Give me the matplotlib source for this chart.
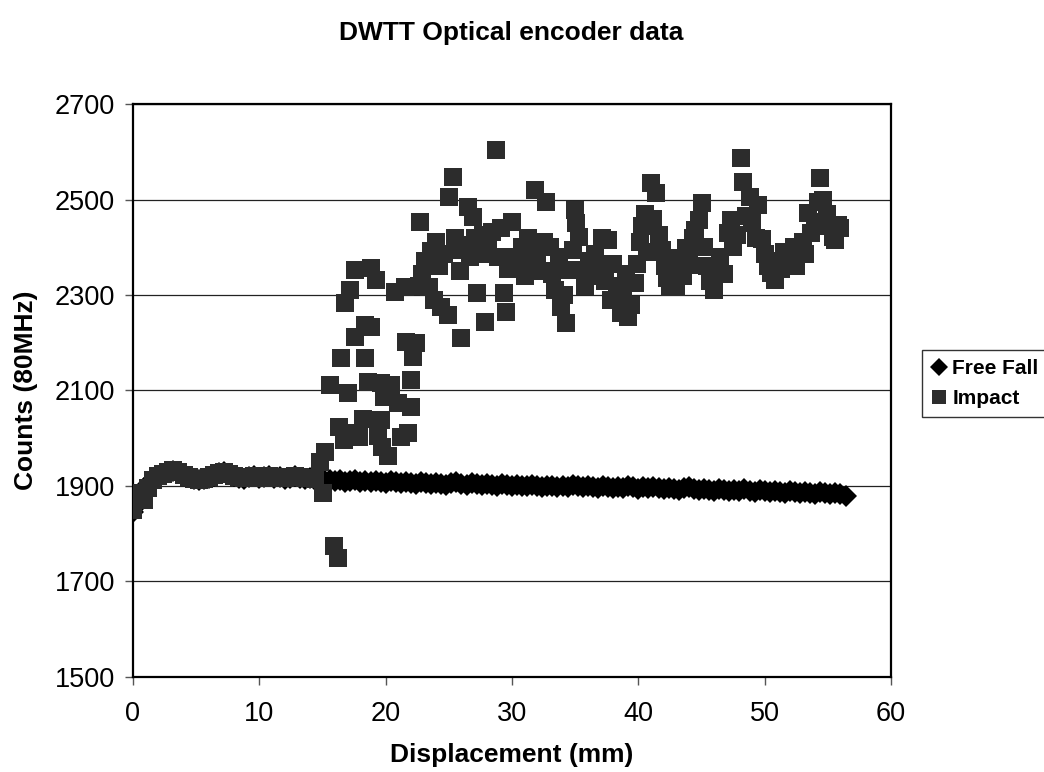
import matplotlib
matplotlib.use("Agg")
import matplotlib.pyplot as plt

plt.rcParams['font.family'] = ['Liberation Sans', 'DejaVu Sans']

title = "DWTT Optical encoder data"
x_label = "Displacement (mm)"
y_label = "Counts (80MHz)"
x_ticks = [0, 10, 20, 30, 40, 50, 60]
y_ticks = [1500, 1700, 1900, 2100, 2300, 2500, 2700]

free_fall_x = [
    0.0, 0.4, 0.8, 1.2, 1.6, 2.0, 2.4, 2.8, 3.2, 3.6, 4.0, 4.4, 4.8, 5.2, 5.6, 6.0,
    6.4, 6.8, 7.2, 7.6, 8.0, 8.4, 8.8, 9.2, 9.6, 10.0, 10.4, 10.8, 11.2, 11.6, 12.0,
    12.4, 12.8, 13.2, 13.6, 14.0, 14.4, 14.8, 15.2, 15.6, 16.0, 16.4, 16.8, 17.2,
    17.6, 18.0, 18.4, 18.8, 19.2, 19.6, 20.0, 20.4, 20.8, 21.2, 21.6, 22.0, 22.4,
    22.8, 23.2, 23.6, 24.0, 24.4, 24.8, 25.2, 25.6, 26.0, 26.4, 26.8, 27.2, 27.6,
    28.0, 28.4, 28.8, 29.2, 29.6, 30.0, 30.4, 30.8, 31.2, 31.6, 32.0, 32.4, 32.8,
    33.2, 33.6, 34.0, 34.4, 34.8, 35.2, 35.6, 36.0, 36.4, 36.8, 37.2, 37.6, 38.0,
    38.4, 38.8, 39.2, 39.6, 40.0, 40.4, 40.8, 41.2, 41.6, 42.0, 42.4, 42.8, 43.2,
    43.6, 44.0, 44.4, 44.8, 45.2, 45.6, 46.0, 46.4, 46.8, 47.2, 47.6, 48.0, 48.4,
    48.8, 49.2, 49.6, 50.0, 50.4, 50.8, 51.2, 51.6, 52.0, 52.4, 52.8, 53.2, 53.6,
    54.0, 54.4, 54.8, 55.2, 55.6, 56.0, 56.4,
]
free_fall_counts = [
    1845, 1862, 1885, 1905, 1915, 1920, 1925, 1930, 1932, 1930, 1925, 1918, 1914,
    1912, 1914, 1917, 1921, 1927, 1929, 1926, 1921, 1917, 1915, 1918, 1920, 1916,
    1918, 1920, 1916, 1918, 1915, 1917, 1920, 1917, 1915, 1916, 1913, 1912, 1911,
    1913, 1910, 1912, 1909, 1911, 1913, 1909, 1910, 1908, 1911, 1909, 1907, 1910,
    1908, 1906, 1909, 1907, 1905, 1908, 1906, 1904, 1907, 1905, 1903, 1906, 1909,
    1905, 1903, 1906, 1904, 1902, 1905, 1903, 1900, 1904, 1902, 1900, 1903, 1901,
    1899, 1902, 1900, 1898, 1901, 1899, 1897, 1900, 1898, 1902, 1899, 1897, 1900,
    1898, 1896, 1899, 1897, 1895, 1898, 1896, 1899, 1897, 1894, 1897, 1895, 1898,
    1895, 1893, 1896, 1894, 1892, 1895, 1897, 1893, 1891, 1894, 1892, 1890, 1893,
    1891, 1889, 1892, 1890, 1893, 1890, 1888, 1891, 1889, 1887, 1890, 1888, 1886,
    1889, 1887, 1885, 1888, 1886, 1884, 1887, 1885, 1883, 1886, 1884, 1880,
]

impact_x = [
    0.0, 0.2, 0.5, 0.9, 1.2, 1.6, 2.0, 2.4, 2.8, 3.2, 3.6, 4.0, 4.4, 4.8, 5.2, 5.6,
    6.0, 6.4, 6.8, 7.2, 7.6, 8.0, 8.4, 8.8, 9.2, 9.6, 10.0, 10.4, 10.8, 11.2, 11.6,
    12.0, 12.4, 12.8, 13.2, 13.6, 14.0, 14.4,
    14.8, 15.0, 15.2, 15.6, 15.9, 16.2, 16.3, 16.5, 16.7, 16.8, 17.0, 17.2, 17.3,
    17.6, 17.6, 17.9, 18.2, 18.4, 18.4, 18.6, 18.8, 18.8, 19.2, 19.4, 19.6, 19.6,
    19.7, 19.9, 20.2, 20.4, 20.7, 21.0, 21.2, 21.5, 21.6, 21.8, 22.0, 22.0, 22.2,
    22.4,
    22.6, 22.7, 22.9, 23.1, 23.4, 23.6, 23.8, 24.0, 24.2, 24.4, 24.6, 24.9, 25.0,
    25.3, 25.5, 25.7, 25.9, 26.0, 26.2, 26.5, 26.7, 26.9, 27.1, 27.2, 27.5, 27.7,
    27.9, 28.1, 28.4, 28.7, 28.9, 29.1, 29.4, 29.5, 29.7, 30.0, 30.2, 30.5, 30.8,
    31.0, 31.3, 31.5, 31.8, 32.0, 32.3, 32.5, 32.7, 33.0, 33.2, 33.4, 33.7, 33.9,
    34.1, 34.3, 34.6, 34.8, 35.0, 35.1, 35.3, 35.6, 35.8, 36.1, 36.3, 36.6, 36.9,
    37.1, 37.4, 37.6, 37.8, 38.0, 38.3, 38.6, 38.8, 39.0, 39.2, 39.4, 39.7, 39.9,
    40.1, 40.3, 40.5, 40.7, 41.0, 41.2, 41.4, 41.6, 41.9, 42.1, 42.3, 42.5, 42.8,
    43.0, 43.2, 43.5, 43.8, 44.0, 44.3, 44.5, 44.8, 45.0, 45.2, 45.4, 45.7, 46.0,
    46.2, 46.5, 46.8, 47.1, 47.3, 47.5, 47.8, 48.1, 48.3, 48.5, 48.8, 49.0, 49.3,
    49.5, 49.8, 50.0, 50.3, 50.5, 50.8, 51.0, 51.3, 51.5, 51.8, 52.0, 52.3, 52.5,
    52.8, 53.0, 53.2, 53.4, 53.7, 54.0, 54.2, 54.4, 54.6, 54.9, 55.1, 55.4, 55.6,
    55.8, 56.0,
]
impact_counts = [
    1850, 1872, 1885, 1870, 1895, 1912, 1920, 1926, 1930, 1933, 1930, 1924, 1918,
    1914, 1913, 1915, 1918, 1922, 1928, 1930, 1926, 1921, 1918, 1916, 1919, 1921,
    1917, 1919, 1921, 1917, 1919, 1916, 1918, 1921, 1918, 1916, 1917, 1914,
    1950, 1885, 1972, 2112, 1775, 1750, 2024, 2168, 1996, 2283, 2095, 2310, 2012,
    2352, 2212, 2002, 2040, 2237, 2168, 2118, 2356, 2233, 2331, 2004, 2116, 2038,
    1982, 2087, 1962, 2112, 2306, 2074, 2002, 2317, 2202, 2012, 2122, 2065, 2170,
    2200,
    2318, 2453, 2345, 2372, 2317, 2392, 2290, 2410, 2360, 2275, 2385, 2258, 2505,
    2547, 2420, 2395, 2350, 2210, 2405, 2484, 2380, 2463, 2420, 2304, 2385, 2425,
    2243, 2400, 2432, 2604, 2380, 2440, 2304, 2264, 2355, 2452, 2380, 2362, 2400,
    2340, 2420, 2372, 2520, 2385, 2350, 2410, 2495, 2400, 2345, 2310, 2380, 2275,
    2300, 2241, 2352, 2395, 2478, 2451, 2421, 2352, 2318, 2372, 2340, 2385, 2360,
    2419, 2330, 2415, 2290, 2365, 2318, 2262, 2300, 2345, 2254, 2280, 2325, 2365,
    2410, 2445, 2470, 2390, 2535, 2460, 2514, 2425, 2395, 2360, 2335, 2317, 2352,
    2317, 2378, 2340, 2398, 2362, 2420, 2436, 2457, 2493, 2400, 2360, 2330, 2310,
    2355, 2380, 2345, 2430, 2457, 2400, 2425, 2587, 2537, 2465, 2505, 2450, 2420,
    2488, 2418, 2385, 2360, 2346, 2331, 2372, 2355, 2390, 2365, 2378, 2400, 2360,
    2395, 2410, 2385, 2472, 2430, 2452, 2495, 2545, 2499, 2470, 2445, 2421, 2415,
    2447, 2440,
]

fig = plt.figure(figsize=(10.44, 7.72), dpi=100)
ax = fig.add_axes([133 / 1044, 1 - 677 / 772, (891 - 133) / 1044, (677 - 104) / 772])

ax.plot(free_fall_x, free_fall_counts, linestyle='none', marker='D', markersize=11,
        color='black', markeredgewidth=0, label='Free Fall', zorder=3)
ax.plot(impact_x, impact_counts, linestyle='none', marker='s', markersize=12.5,
        color='#2c2c2c', markeredgewidth=0, label='Impact', zorder=4)

ax.set_xlim(0, 60)
ax.set_ylim(1500, 2700)
ax.set_xticks(x_ticks)
ax.set_yticks(y_ticks)
ax.yaxis.grid(True, color='#222222', linewidth=0.9)
ax.set_axisbelow(True)

for side in ['left', 'right', 'top', 'bottom']:
    ax.spines[side].set_linewidth(1.6)
    ax.spines[side].set_color('black')

ax.tick_params(axis='both', direction='out', length=6, width=1, color='#555555',
               labelsize=19.5)
ax.tick_params(axis='x', pad=11)
ax.tick_params(axis='y', pad=7)

ax.set_xlabel(x_label, fontsize=19, fontweight='bold', labelpad=12)
ax.set_ylabel(y_label, fontsize=19, fontweight='bold', labelpad=12)
fig.text(0.49, 1 - 33 / 772, title, ha='center', va='center', fontsize=19, fontweight='bold')

leg = fig.legend(loc='upper left', bbox_to_anchor=(922 / 1044, 1 - 350 / 772),
                 prop={'weight': 'bold', 'size': 15}, frameon=True,
                 fancybox=False, edgecolor='black', handlelength=0.7, handletextpad=0.3,
                 borderpad=0.45, labelspacing=0.5, borderaxespad=0, markerscale=0.8)
leg.get_frame().set_linewidth(1.0)

fig.savefig('out.png', dpi=100)
